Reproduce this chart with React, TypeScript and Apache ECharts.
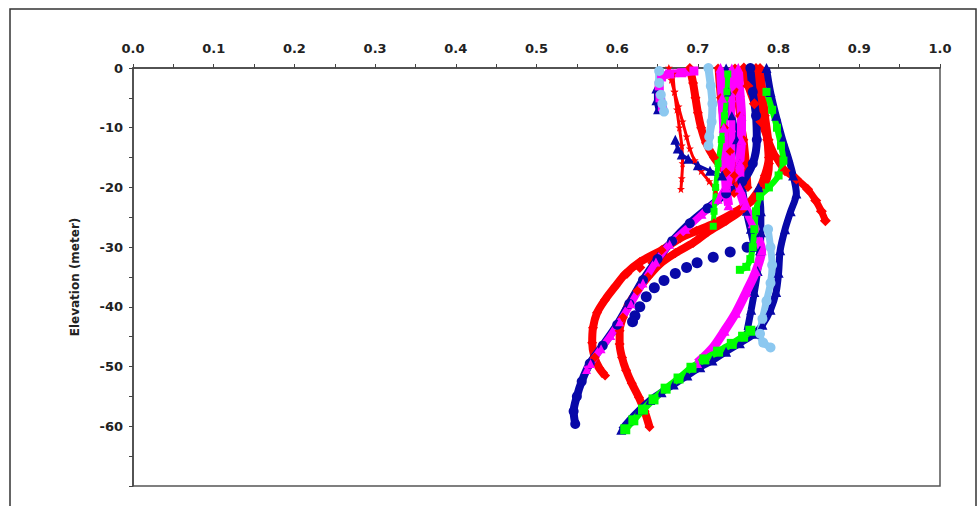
import React, { useEffect, useRef } from "react";
import * as echarts from "echarts";

// ---- axis ticks ----
const xTicks = [0, 0.1, 0.2, 0.3, 0.4, 0.5, 0.6, 0.7, 0.8, 0.9, 1.0];
const yTicks = [0, -10, -20, -30, -40, -50, -60, -70];
const yAxisName = "Elevation (meter)";

// ---- series values: [ratio, elevation (m)] ----
const red1 = [[0.757,0],[0.762,-3],[0.77,-6],[0.778,-9],[0.787,-12],[0.797,-15],[0.808,-17.2],[0.822,-18.6],[0.836,-20.3],[0.846,-22.2],[0.853,-24],[0.858,-25.6]];
const red2 = [[0.772,0],[0.776,-4],[0.781,-8],[0.786,-12],[0.788,-16],[0.783,-19.5],[0.768,-22.1],[0.745,-24.2],[0.72,-26],[0.698,-27.3],[0.678,-28.5],[0.655,-30.5],[0.628,-32.5],[0.61,-34.5],[0.598,-36.5],[0.585,-38.8],[0.575,-41],[0.57,-43.5],[0.569,-46],[0.572,-48.5],[0.578,-50.3],[0.585,-51.5]];
const red3 = [[0.777,0],[0.78,-4],[0.783,-8],[0.787,-12],[0.788,-15],[0.783,-18],[0.775,-20.6],[0.757,-23.5],[0.735,-25.6],[0.712,-27.5],[0.694,-29.3],[0.672,-31],[0.653,-32.8],[0.638,-35],[0.625,-37.3],[0.614,-39.6],[0.607,-41.8],[0.603,-44],[0.603,-46.2],[0.606,-48.5],[0.611,-50.6],[0.618,-52.8],[0.627,-55.2],[0.634,-57.5],[0.64,-60.1]];
const redSparse = [[0.612,-34.4],[0.628,-33.4],[0.644,-32.6],[0.66,-31.7]];
const red4 = [[0.664,0],[0.667,-2],[0.671,-4],[0.676,-6.5],[0.681,-9],[0.686,-11.5],[0.69,-13.5],[0.696,-15.5],[0.704,-17.3],[0.714,-19],[0.722,-20.5]];
const red5 = [[0.669,-1],[0.671,-4],[0.674,-7],[0.677,-10],[0.68,-13],[0.681,-16],[0.68,-18.5],[0.679,-20.3]];
const red6 = [[0.69,0],[0.694,-2.5],[0.697,-5],[0.7,-7.5],[0.704,-10],[0.71,-12.5],[0.72,-15],[0.735,-17.5],[0.75,-19.5]];
const red7 = [[0.746,0],[0.748,-4],[0.752,-8],[0.757,-12],[0.76,-16],[0.762,-20]];
const red8 = [[0.725,0],[0.728,-5],[0.733,-10],[0.74,-14],[0.745,-18],[0.745,-21]];

const blue1 = [[0.765,0],[0.768,-4],[0.772,-8],[0.773,-12],[0.768,-16],[0.755,-19],[0.735,-21],[0.712,-23.5],[0.69,-26],[0.668,-29],[0.65,-32],[0.632,-35.5],[0.615,-39.5],[0.6,-43],[0.582,-46.5],[0.566,-49.5],[0.556,-52.5],[0.55,-55],[0.546,-57.5],[0.548,-59.6]];
const blue2 = [[0.775,-29.5],[0.761,-30],[0.74,-30.8],[0.719,-31.7],[0.699,-32.6],[0.686,-33.4],[0.672,-34.4],[0.658,-35.6],[0.646,-36.8],[0.636,-38.3],[0.628,-40],[0.622,-41.5],[0.619,-42.5]];
const blue3 = [[0.785,0],[0.79,-4],[0.797,-8],[0.805,-12],[0.812,-15],[0.818,-18],[0.822,-21],[0.815,-24],[0.808,-27],[0.802,-30.5],[0.8,-34.3],[0.797,-37.5],[0.79,-40.5],[0.78,-43],[0.77,-44.5],[0.752,-46.1],[0.735,-47.5],[0.718,-49],[0.703,-50.1],[0.687,-51.5],[0.67,-53],[0.655,-54.3],[0.641,-55.6],[0.628,-57.2],[0.615,-59],[0.605,-60.6]];
const blue4 = [[0.775,-20],[0.778,-24],[0.778,-27.5],[0.777,-30.5],[0.774,-34],[0.77,-37.5],[0.766,-40.5],[0.761,-44]];
const blue5 = [[0.648,-3.5],[0.648,-5.5],[0.65,-7]];
const blue6 = [[0.672,-12],[0.675,-13.5],[0.68,-14.5],[0.688,-15.2],[0.7,-16.3],[0.715,-17.2],[0.73,-18]];
const blue7 = [[0.735,0],[0.738,-4],[0.742,-8],[0.748,-12],[0.752,-16],[0.755,-20],[0.76,-24],[0.765,-27],[0.77,-30]];

const magenta1 = [[0.695,-0.5],[0.68,-0.8],[0.665,-1],[0.655,-1.5],[0.652,-3],[0.653,-5],[0.656,-6.5]];
const magenta2 = [[0.75,0],[0.752,-4],[0.754,-8],[0.754,-12],[0.752,-16],[0.752,-20],[0.758,-23],[0.768,-26],[0.776,-29],[0.779,-30.5],[0.772,-34],[0.76,-37.5],[0.747,-41],[0.733,-44],[0.72,-46.6],[0.709,-48.2],[0.699,-49.4]];
const magenta3 = [[0.728,0],[0.73,-5],[0.732,-10],[0.733,-15],[0.735,-20],[0.738,-23]];
const magenta4 = [[0.742,0],[0.742,-5],[0.742,-10],[0.742,-15],[0.738,-19],[0.725,-22],[0.705,-24.5],[0.685,-27],[0.665,-29.5],[0.648,-32.5],[0.632,-36],[0.617,-39.5],[0.603,-42.5],[0.592,-44.8],[0.58,-47],[0.567,-49.5],[0.562,-50.5]];

const green1 = [[0.737,-1],[0.736,-4],[0.733,-8],[0.729,-12],[0.725,-16],[0.722,-20],[0.72,-24],[0.719,-26.5]];
const green2 = [[0.785,-4],[0.792,-7],[0.798,-10],[0.803,-13],[0.806,-15.5],[0.8,-18],[0.788,-20],[0.777,-21.5],[0.772,-24],[0.77,-27],[0.768,-30],[0.765,-32],[0.76,-33.3],[0.752,-33.8]];
const green3 = [[0.61,-60.5],[0.62,-59],[0.632,-57.2],[0.645,-55.5],[0.66,-53.7],[0.676,-52],[0.692,-50.2],[0.708,-48.8],[0.725,-47.5],[0.742,-46.2],[0.756,-45],[0.765,-44]];

const lightblue1 = [[0.652,-0.5],[0.652,-2.5],[0.654,-4.5],[0.656,-6],[0.658,-7.3]];
const lightblue2 = [[0.713,0],[0.716,-3],[0.718,-6],[0.717,-9],[0.714,-11.5],[0.713,-13]];
const lightblue3 = [[0.787,-27],[0.79,-30],[0.792,-33],[0.79,-36],[0.785,-39],[0.78,-42],[0.777,-44.5],[0.781,-46],[0.79,-46.8]];

const RED = "#ff0000";
const BLUE = "#0808a8";
const MAGENTA = "#ff00ff";
const GREEN = "#00ff00";
const LIGHTBLUE = "#8cc8f0";
const STAR = "path://M0,-10 L3,-3 L10,-3 L4,2 L6,10 L0,5 L-6,10 L-4,2 L-10,-3 L-3,-3 Z";

type Def = { data: number[][]; color: string; symbol: string; size: number; width: number; scatter?: boolean };

const defs: Def[] = [
  { data: red7, color: RED, symbol: "diamond", size: 9, width: 7 },
  { data: red8, color: RED, symbol: "diamond", size: 9, width: 7 },
  { data: blue7, color: BLUE, symbol: "triangle", size: 9, width: 7 },
  { data: red1, color: RED, symbol: "diamond", size: 11, width: 7 },
  { data: red2, color: RED, symbol: "diamond", size: 10, width: 8 },
  { data: red3, color: RED, symbol: "diamond", size: 10, width: 8 },
  { data: redSparse, color: RED, symbol: "diamond", size: 11, width: 0, scatter: true },
  { data: red4, color: RED, symbol: STAR, size: 8, width: 3 },
  { data: red5, color: RED, symbol: STAR, size: 8, width: 3 },
  { data: red6, color: RED, symbol: "diamond", size: 10, width: 8 },
  { data: blue3, color: BLUE, symbol: "triangle", size: 10, width: 7 },
  { data: blue4, color: BLUE, symbol: "triangle", size: 10, width: 7 },
  { data: blue1, color: BLUE, symbol: "circle", size: 10, width: 8 },
  { data: blue2, color: BLUE, symbol: "circle", size: 11, width: 0, scatter: true },
  { data: blue5, color: BLUE, symbol: "triangle", size: 9, width: 4 },
  { data: blue6, color: BLUE, symbol: "triangle", size: 10, width: 3 },
  { data: magenta4, color: MAGENTA, symbol: "triangle", size: 9, width: 7 },
  { data: magenta3, color: MAGENTA, symbol: "triangle", size: 10, width: 9 },
  { data: magenta2, color: MAGENTA, symbol: "triangle", size: 10, width: 9 },
  { data: magenta1, color: MAGENTA, symbol: "rect", size: 9, width: 8 },
  { data: green1, color: GREEN, symbol: "rect", size: 7, width: 5 },
  { data: green2, color: GREEN, symbol: "rect", size: 8, width: 6 },
  { data: green3, color: GREEN, symbol: "rect", size: 10, width: 7 },
  { data: lightblue1, color: LIGHTBLUE, symbol: "circle", size: 10, width: 8 },
  { data: lightblue2, color: LIGHTBLUE, symbol: "circle", size: 10, width: 8 },
  { data: lightblue3, color: LIGHTBLUE, symbol: "circle", size: 10, width: 7 },
];

export default function App() {
  const ref = useRef<HTMLDivElement>(null);
  useEffect(() => {
    if (!ref.current) return;
    const chart = echarts.init(ref.current, null, { renderer: "svg" });
    const labelFont = { fontFamily: "DejaVu Sans", fontWeight: "bold" as const, fontSize: 13, color: "#222" };
    chart.setOption({
      animation: false,
      backgroundColor: "#fff",
      graphic: [
        { type: "rect", shape: { x: 10, y: 9, width: 966, height: 510 }, style: { fill: "none", stroke: "#333", lineWidth: 1.5 }, silent: true },
      ],
      grid: { left: 133, right: 38, top: 68, bottom: 20, show: true, borderColor: "#555", borderWidth: 1.5, backgroundColor: "transparent" },
      xAxis: {
        type: "value",
        position: "top",
        min: xTicks[0],
        max: xTicks[xTicks.length - 1],
        interval: 0.1,
        axisLine: { show: true, onZero: false, lineStyle: { color: "#444", width: 1.5 } },
        axisTick: { show: true, length: 4, lineStyle: { color: "#444" } },
        minorTick: { show: true, splitNumber: 2, length: 4, lineStyle: { color: "#444" } },
        splitLine: { show: false },
        axisLabel: { ...labelFont, margin: 13, formatter: (v: number) => v.toFixed(1) },
      },
      yAxis: {
        type: "value",
        min: yTicks[yTicks.length - 1],
        max: yTicks[0],
        interval: 10,
        name: yAxisName,
        nameLocation: "middle",
        nameGap: 52,
        nameTextStyle: { fontFamily: "DejaVu Sans", fontWeight: "bold", fontSize: 12, color: "#222" },
        axisLine: { show: true, onZero: false, lineStyle: { color: "#444", width: 1.5 } },
        axisTick: { show: true, length: 4, lineStyle: { color: "#444" } },
        minorTick: { show: true, splitNumber: 2, length: 4, lineStyle: { color: "#444" } },
        splitLine: { show: false },
        axisLabel: { ...labelFont, margin: 10, formatter: (v: number) => (v === -70 ? "" : String(v)) },
      },
      series: defs.map((d) => ({
        type: d.scatter ? "scatter" : "line",
        data: d.data,
        symbol: d.symbol,
        symbolSize: d.size,
        showSymbol: true,
        itemStyle: { color: d.color, opacity: 1 },
        lineStyle: { color: d.color, width: d.width },
        smooth: !d.scatter ? 0.3 : undefined,
        silent: true,
      })),
    });
    return () => chart.dispose();
  }, []);
  return <div ref={ref} style={{ position: "fixed", left: 0, top: 0, width: 978, height: 506 }} />;
}
